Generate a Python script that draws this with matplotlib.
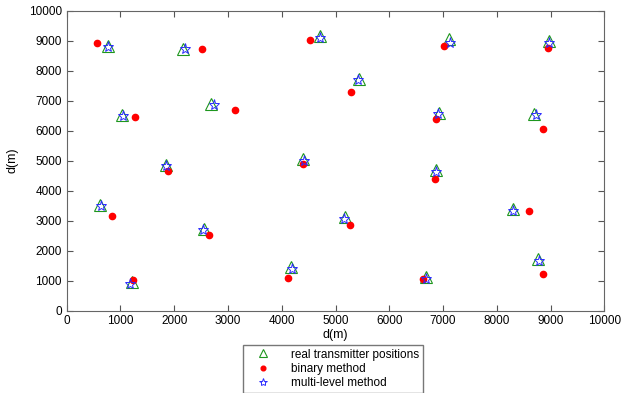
import matplotlib.pyplot as plt

plt.rcParams['font.family'] = ['Liberation Sans', 'DejaVu Sans']

# real transmitter positions
real_x = [763, 2169, 4712, 7111, 8971, 5443, 1023, 2684, 6931, 8692, 1853,
          4401, 6864, 625, 5177, 8296, 2554, 1215, 4172, 6678, 8761]
real_y = [8823, 8736, 9157, 9070, 8990, 7732, 6505, 6896, 6595, 6562, 4866,
          5057, 4676, 3528, 3117, 3385, 2715, 963, 1445, 1130, 1722]

# binary method estimates
bin_x = [564, 2511, 4531, 7024, 8947, 5288, 1270, 3131, 6864, 8854, 1884,
         4401, 6851, 849, 5270, 8594, 2647, 1227, 4122, 6633, 8866]
bin_y = [8910, 8736, 9013, 8823, 8769, 7284, 6449, 6672, 6371, 6060, 4655,
         4890, 4398, 3150, 2860, 3318, 2535, 1010, 1077, 1043, 1221]

# multi-level method estimates
ml_x = [774, 2200, 4712, 7130, 8971, 5420, 1040, 2746, 6901, 8724, 1853,
        4420, 6864, 640, 5164, 8307, 2540, 1177, 4197, 6678, 8791]
ml_y = [8800, 8712, 9100, 8936, 8913, 7700, 6480, 6839, 6538, 6516, 4833,
        4977, 4609, 3500, 3060, 3328, 2690, 886, 1388, 1043, 1666]

fig = plt.figure(figsize=(6.31, 3.93), dpi=100)
ax = fig.add_axes([0.1057, 0.2099, 0.852, 0.7629])

ax.plot(real_x, real_y, '^', color='#1e961e', markerfacecolor='none',
        markersize=8, markeredgewidth=0.8, linestyle='none',
        label='real transmitter positions')
ax.plot(bin_x, bin_y, 'o', color='red', markersize=4.5, linestyle='none',
        label='binary method')
ax.plot(ml_x, ml_y, '*', color='#2b2bff', markerfacecolor='none',
        markersize=8, markeredgewidth=0.7, linestyle='none',
        label='multi-level method')

ax.set_xlim(0, 10000)
ax.set_ylim(0, 10000)
ax.set_xticks(range(0, 10001, 1000))
ax.set_yticks(range(0, 10001, 1000))
ax.tick_params(direction='in', top=True, right=True, labelsize=8.5,
               length=4, color='#555555')
for s in ax.spines.values():
    s.set_color('#666666')
ax.set_xlabel('d(m)', fontsize=9, labelpad=1)
ax.set_ylabel('d(m)', fontsize=9, labelpad=7)

fig.legend(loc='upper center', bbox_to_anchor=(0.527, 0.137), fontsize=8.5,
           frameon=True, fancybox=False, edgecolor='#555555',
           borderpad=0.3, labelspacing=0.2, handletextpad=1.0,
           handlelength=2.8, markerscale=0.75)

fig.savefig('out.png', dpi=100)
